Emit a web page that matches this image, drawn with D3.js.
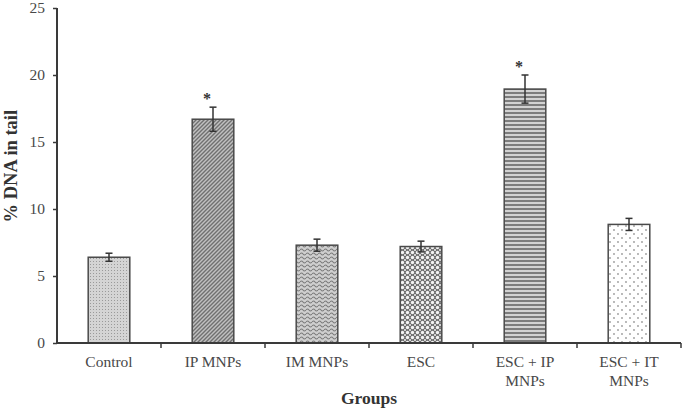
<!DOCTYPE html>
<html><head><meta charset="utf-8">
<script src="https://cdn.jsdelivr.net/npm/d3@7"></script>
<style>body{margin:0;background:#fff}svg{display:block}</style>
</head><body>
<svg id="c" width="685" height="414"></svg>
<script>
const categories = [["Control"],["IP MNPs"],["IM MNPs"],["ESC"],["ESC + IP","MNPs"],["ESC + IT","MNPs"]];
const values = [6.4, 16.7, 7.3, 7.2, 18.95, 8.85];
const errors = [0.3, 0.9, 0.45, 0.4, 1.05, 0.45];
const significant = [false, true, false, false, true, false];
const yTicks = [0,5,10,15,20,25];
const patterns = ["pDots","pDiag","pWave","pCheck","pHoriz","pSparse"];

const svg = d3.select("#c");
const W=685,H=414;
const m={l:57,r:4,t:8,b:71};
const x = d3.scaleBand().domain(d3.range(categories.length)).range([m.l,W-m.r]).paddingInner(0.6).paddingOuter(0.3);
const xb = d3.scaleBand().domain(d3.range(categories.length)).range([m.l,W-m.r]);
const y = d3.scaleLinear().domain([0,25]).range([H-m.b,m.t]);

const defs = svg.append("defs");
let p = defs.append("pattern").attr("id","pDots").attr("width",3).attr("height",3).attr("patternUnits","userSpaceOnUse");
p.append("rect").attr("width",3).attr("height",3).attr("fill","#d4d4d4");
p.append("rect").attr("width",1).attr("height",1).attr("fill","#9a9a9a");
p = defs.append("pattern").attr("id","pDiag").attr("width",4).attr("height",4).attr("patternUnits","userSpaceOnUse");
p.append("rect").attr("width",4).attr("height",4).attr("fill","#c0c0c0");
p.append("path").attr("d","M-1,1 l2,-2 M0,4 l4,-4 M3,5 l2,-2").attr("stroke","#707070").attr("stroke-width",1.4);
p = defs.append("pattern").attr("id","pWave").attr("width",6).attr("height",4).attr("patternUnits","userSpaceOnUse");
p.append("rect").attr("width",6).attr("height",4).attr("fill","#cfcfcf");
p.append("path").attr("d","M0,2 Q1.5,0 3,2 T6,2").attr("fill","none").attr("stroke","#7a7a7a").attr("stroke-width",1.1);
p = defs.append("pattern").attr("id","pCheck").attr("width",5).attr("height",5).attr("patternUnits","userSpaceOnUse");
p.append("rect").attr("width",5).attr("height",5).attr("fill","#6e6e6e");
p.append("circle").attr("cx",2.5).attr("cy",2.5).attr("r",1.7).attr("fill","#f4f4f4");
[[0,0],[5,0],[0,5],[5,5]].forEach(c=>p.append("circle").attr("cx",c[0]).attr("cy",c[1]).attr("r",1.0).attr("fill","#f4f4f4"));
p = defs.append("pattern").attr("id","pHoriz").attr("width",4).attr("height",4).attr("patternUnits","userSpaceOnUse");
p.append("rect").attr("width",4).attr("height",4).attr("fill","#d2d2d2");
p.append("rect").attr("y",0).attr("width",4).attr("height",2).attr("fill","#7c7c7c");
p = defs.append("pattern").attr("id","pSparse").attr("width",8).attr("height",8).attr("patternUnits","userSpaceOnUse");
p.append("rect").attr("width",8).attr("height",8).attr("fill","#ffffff");
p.append("circle").attr("cx",2).attr("cy",2).attr("r",0.9).attr("fill","#9a9a9a");
p.append("circle").attr("cx",6).attr("cy",6).attr("r",0.9).attr("fill","#9a9a9a");

const font = "'Liberation Serif','Times New Roman',serif";
const txt = "#484848", ax="#3a3a3a";

svg.append("g").selectAll("rect").data(values).join("rect")
  .attr("x",(d,i)=>x(i)).attr("width",x.bandwidth())
  .attr("y",d=>y(d)).attr("height",d=>y(0)-y(d))
  .attr("fill",(d,i)=>`url(#${patterns[i]})`)
  .attr("stroke","#4a4a4a").attr("stroke-width",1.5);

const eg = svg.append("g").attr("stroke","#333").attr("stroke-width",1.5);
values.forEach((v,i)=>{
  const cx = x(i)+x.bandwidth()/2;
  eg.append("line").attr("x1",cx).attr("x2",cx).attr("y1",y(v-errors[i])).attr("y2",y(v+errors[i]));
  eg.append("line").attr("x1",cx-3.5).attr("x2",cx+3.5).attr("y1",y(v+errors[i])).attr("y2",y(v+errors[i]));
  eg.append("line").attr("x1",cx-3.5).attr("x2",cx+3.5).attr("y1",y(v-errors[i])).attr("y2",y(v-errors[i]));
  if(significant[i]){
    svg.append("text").attr("x",cx-6).attr("y",y(v+errors[i])-3).attr("text-anchor","middle")
      .attr("font-family",font).attr("font-weight","bold").attr("font-size",16).attr("fill","#333").text("*");
  }
});

const yAxis = svg.append("g").attr("transform",`translate(${m.l},0)`)
  .call(d3.axisLeft(y).tickValues(yTicks).tickSize(4).tickPadding(8));
yAxis.select(".domain").attr("stroke",ax).attr("stroke-width",2).attr("d",`M-0,${y(25)}V${y(0)}`);
yAxis.selectAll(".tick line").attr("stroke",ax).attr("stroke-width",1.5);
yAxis.selectAll("text").attr("font-family",font).attr("font-size",15.5).attr("fill",txt);

const xg = svg.append("g").attr("transform",`translate(0,${y(0)})`);
xg.append("line").attr("x1",m.l).attr("x2",W-m.r).attr("stroke",ax).attr("stroke-width",2);
xg.selectAll(".tk").data(d3.range(1,categories.length+1)).join("line")
  .attr("x1",i=>xb(0)+i*xb.bandwidth()).attr("x2",i=>xb(0)+i*xb.bandwidth())
  .attr("y1",0).attr("y2",5).attr("stroke",ax).attr("stroke-width",1.5);
categories.forEach((lines,i)=>{
  const t = xg.append("text").attr("x",xb(i)+xb.bandwidth()/2).attr("y",24).attr("text-anchor","middle")
    .attr("font-family",font).attr("font-size",15.5).attr("fill",txt);
  lines.forEach((l,j)=>t.append("tspan").attr("x",xb(i)+xb.bandwidth()/2).attr("dy",j?19:0).text(l));
});

svg.append("text").attr("x",(m.l+W-m.r)/2).attr("y",404).attr("text-anchor","middle")
  .attr("font-family",font).attr("font-weight","bold").attr("font-size",17.5).attr("fill","#333").text("Groups");
svg.append("text").attr("transform",`translate(17,${y(13.2)}) rotate(-90)`).attr("text-anchor","middle")
  .attr("font-family",font).attr("font-weight","bold").attr("font-size",18.5).attr("fill","#333").text("% DNA in tail");
</script>
</body></html>
